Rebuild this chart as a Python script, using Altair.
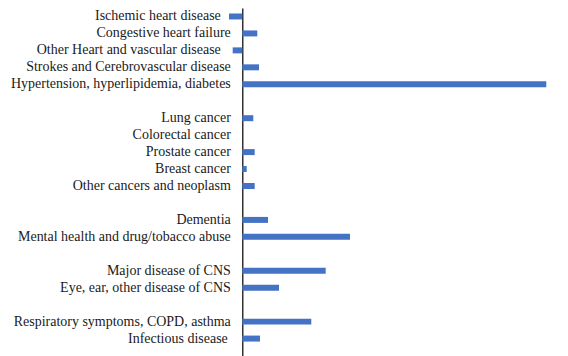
import altair as alt
import pandas as pd

categories = [
    "Ischemic heart disease",
    "Congestive heart failure",
    "Other Heart and vascular disease",
    "Strokes and Cerebrovascular disease",
    "Hypertension, hyperlipidemia, diabetes",
    "Lung cancer",
    "Colorectal cancer",
    "Prostate cancer",
    "Breast cancer",
    "Other cancers and neoplasm",
    "Dementia",
    "Mental health and drug/tobacco abuse",
    "Major disease of CNS",
    "Eye, ear, other disease of CNS",
    "Respiratory symptoms, COPD, asthma",
    "Infectious disease",
]
values = [-1.33, 1.5, -0.96, 1.67, 30.4,
          1.1, 0.0, 1.24, 0.44, 1.24,
          2.57, 10.77,
          8.34, 3.67,
          6.9, 1.77]

# row order with blank separator rows between groups
domain = (categories[0:5] + ["gap1"] + categories[5:10] + ["gap2"]
          + categories[10:12] + ["gap3"] + categories[12:14] + ["gap4"]
          + categories[14:16] + ["gap5"])

df = pd.DataFrame({"category": categories, "value": values})

label_padding = {
    "condition": [
        {"test": "datum.label == 'Ischemic heart disease' || datum.label == 'Other Heart and vascular disease'",
         "value": 22},
        {"test": "datum.label == 'Infectious disease'", "value": 15},
    ],
    "value": 12,
}

chart = alt.Chart(df).mark_bar(color="#4472C4").encode(
    x=alt.X("value:Q", axis=None,
            scale=alt.Scale(domain=[-1.4, 31], nice=False, zero=False)),
    y=alt.Y("category:N", sort=domain,
            scale=alt.Scale(domain=domain, paddingInner=0.647, paddingOuter=0.3235),
            axis=alt.Axis(title=None, ticks=False, tickSize=0, grid=False,
                          domain=True, domainColor="#000000", domainWidth=1.2,
                          offset=-14, labelPadding=label_padding,
                          labelFont="Liberation Serif", labelFontSize=14,
                          labelColor="#1a1a1a", labelLimit=400,
                          labelExpr="indexof(datum.label, 'gap') == 0 ? '' : datum.label")),
).properties(
    width=324, height=356,
    autosize=alt.AutoSizeParams(type="none"),
    padding={"left": 220.3, "top": 0, "right": 0, "bottom": 0},
).configure_view(stroke=None)

chart.save("out.html", embed_options={"renderer": "svg", "actions": False})
